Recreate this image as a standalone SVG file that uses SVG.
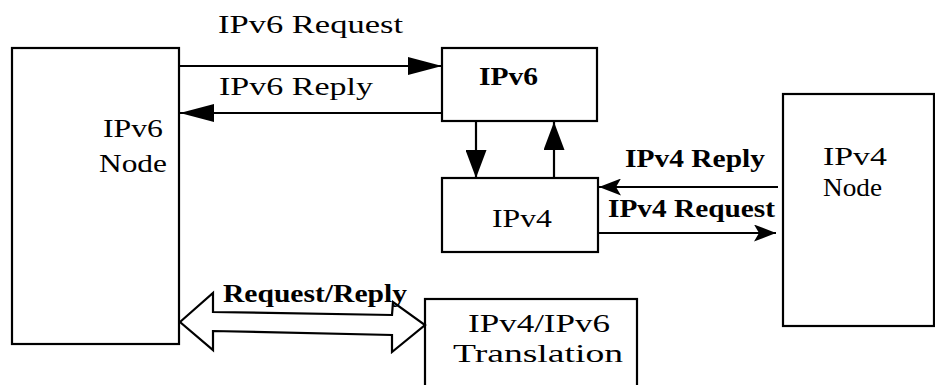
<svg xmlns="http://www.w3.org/2000/svg" width="935" height="385" viewBox="0 0 935 385">
<defs>
<style>
.box{fill:#fff;stroke:#000;stroke-width:2.2}
.ln{stroke:#000;stroke-width:2.2;fill:none}
.mono{font-family:"Liberation Serif","Times New Roman",serif;font-size:26px;fill:#000}
.serif{font-family:"Liberation Serif","Times New Roman",serif;font-size:26px;fill:#000}
.b{font-weight:bold}
</style>
<marker id="ahL" viewBox="0 0 34 18" refX="34" refY="9" markerWidth="34" markerHeight="18" markerUnits="userSpaceOnUse" orient="auto">
<path d="M0,0 L34,9 L0,18 z" fill="#000"/>
</marker>
<marker id="ahV" viewBox="0 0 28 21" refX="28" refY="10.5" markerWidth="28" markerHeight="21" markerUnits="userSpaceOnUse" orient="auto">
<path d="M0,0 L28,10.5 L0,21 z" fill="#000"/>
</marker>
<marker id="ahS" viewBox="0 0 22 17" refX="22" refY="8.5" markerWidth="22" markerHeight="17" markerUnits="userSpaceOnUse" orient="auto">
<path d="M0,0 L22,8.5 L0,17 L5,8.5 z" fill="#000"/>
</marker>
</defs>
<rect width="935" height="385" fill="#fff"/>
<g id="ipv6-node">
<rect class="box" x="12" y="48" width="167" height="296"/>
<text class="serif" x="103" y="137" textLength="60" lengthAdjust="spacingAndGlyphs">IPv6</text>
<text class="serif" x="99" y="172" textLength="68" lengthAdjust="spacingAndGlyphs">Node</text>
</g>
<g id="ipv6-box">
<rect class="box" x="442" y="48" width="155" height="73"/>
<text class="serif b" x="479" y="85" textLength="59" lengthAdjust="spacingAndGlyphs">IPv6</text>
</g>
<g id="ipv4-box">
<rect class="box" x="442" y="178" width="156" height="74"/>
<text class="mono" x="492" y="227" textLength="60" lengthAdjust="spacingAndGlyphs">IPv4</text>
</g>
<g id="ipv4-node">
<rect class="box" x="783" y="94" width="151" height="232"/>
<text class="serif" x="823" y="165" textLength="64" lengthAdjust="spacingAndGlyphs">IPv4</text>
<text class="serif" x="823" y="196" textLength="59" lengthAdjust="spacingAndGlyphs">Node</text>
</g>
<g id="translation">
<rect class="box" x="425" y="299" width="212" height="95"/>
<text class="mono" x="468" y="332" textLength="142" lengthAdjust="spacingAndGlyphs">IPv4/IPv6</text>
<text class="mono" x="453" y="362" textLength="170" lengthAdjust="spacingAndGlyphs">Translation</text>
</g>
<g id="connectors">
<line class="ln" x1="179" y1="66" x2="442" y2="66" marker-end="url(#ahL)"/>
<line class="ln" x1="442" y1="113" x2="180" y2="113" marker-end="url(#ahL)"/>
<line class="ln" x1="476" y1="122" x2="476" y2="178" marker-end="url(#ahV)"/>
<line class="ln" x1="554" y1="178" x2="554" y2="122" marker-end="url(#ahV)"/>
<line class="ln" x1="778" y1="187" x2="599" y2="187" marker-end="url(#ahS)"/>
<line class="ln" x1="598" y1="233" x2="776" y2="233" marker-end="url(#ahS)"/>
<polygon class="ln" points="180,322 213,293 213,312 392,315 393,302 425,325 392,352 392,335 213,331 213,350" fill="#fff"/>
</g>
<g id="labels">
<text class="mono" x="218" y="33" textLength="185" lengthAdjust="spacingAndGlyphs">IPv6 Request</text>
<text class="mono" x="219" y="95" textLength="154" lengthAdjust="spacingAndGlyphs">IPv6 Reply</text>
<text class="serif b" x="625" y="167" textLength="140" lengthAdjust="spacingAndGlyphs">IPv4 Reply</text>
<text class="serif b" x="608" y="217" textLength="167" lengthAdjust="spacingAndGlyphs">IPv4 Request</text>
<text class="serif b" x="223" y="302" textLength="184" lengthAdjust="spacingAndGlyphs">Request/Reply</text>
</g>
</svg>
